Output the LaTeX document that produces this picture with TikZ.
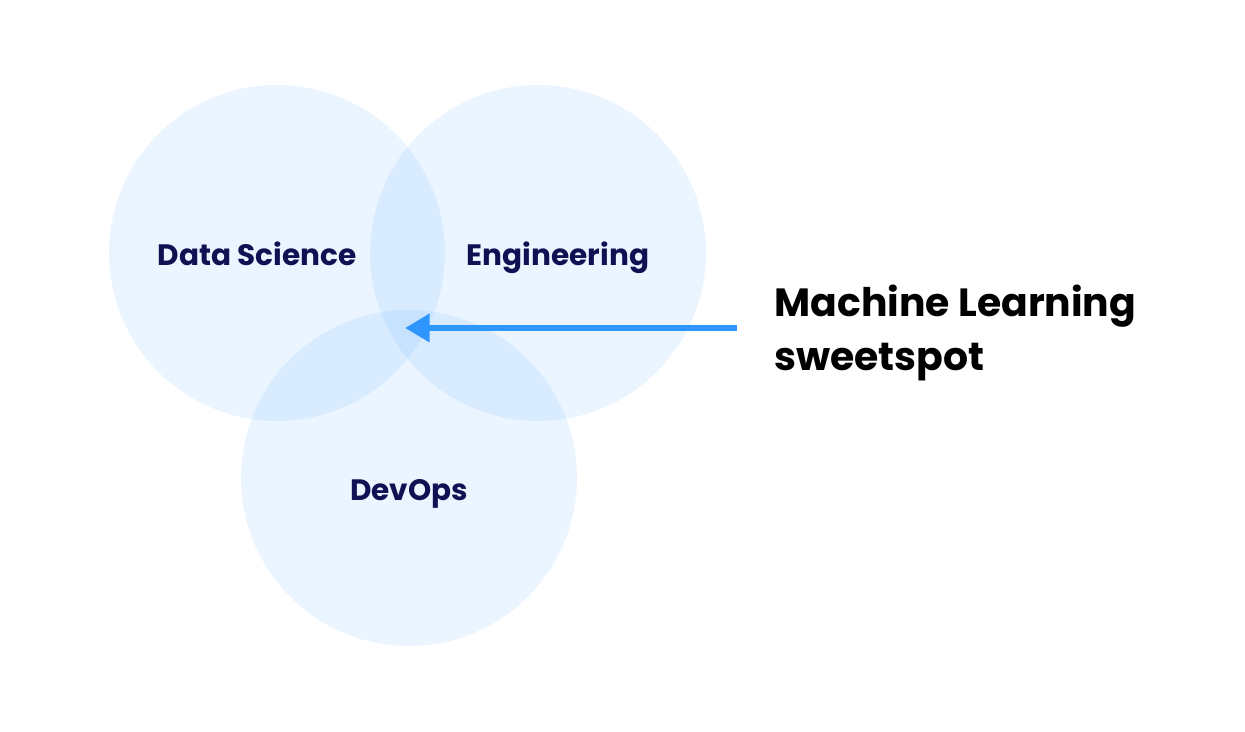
\documentclass[tikz,border=0pt]{standalone}
\usepackage{fontspec}
\setmainfont{Poppins}
\usetikzlibrary{arrows.meta,positioning}
\definecolor{navy}{RGB}{16, 16, 82}
\definecolor{skyblue}{RGB}{51, 153, 255}
\definecolor{arrowblue}{RGB}{47, 149, 255}

\begin{document}
\begin{tikzpicture}[
    x=0.02cm, y=-0.02cm,
    field/.style={circle, minimum size=6.72cm, inner sep=0pt,
        fill=skyblue, fill opacity=0.1},
    label/.style={font=\fontsize{16.8}{18}\selectfont\bfseries, text=navy,
        anchor=base},
    callout/.style={font=\fontsize{22.4}{30.5}\selectfont\bfseries, align=left,
        inner sep=0pt, anchor=west},
    arrow/.style={-{Triangle[length=14pt, width=15.5pt]}, line width=3.6pt,
        draw=arrowblue}
]
\useasboundingbox (0,0) rectangle (1245,732);

\node[field] (ds) at (277,253) {};
\node[field] (eng) at (538,253) {};
\node[field] (dev) at (409,478) {};

\node[label] (dslabel) at (257,266) {Data Science};
\node[label] (englabel) at (558,266) {Engineering};
\node[label] (devlabel) at (409,501) {DevOps};

\node[callout] (ml) at (774,333) {Machine Learning\\sweetspot};
\coordinate (sweet) at (405,328);

\draw[arrow, shorten <=37*0.02cm] (ml.west |- sweet) -- (sweet);

\end{tikzpicture}
\end{document}
